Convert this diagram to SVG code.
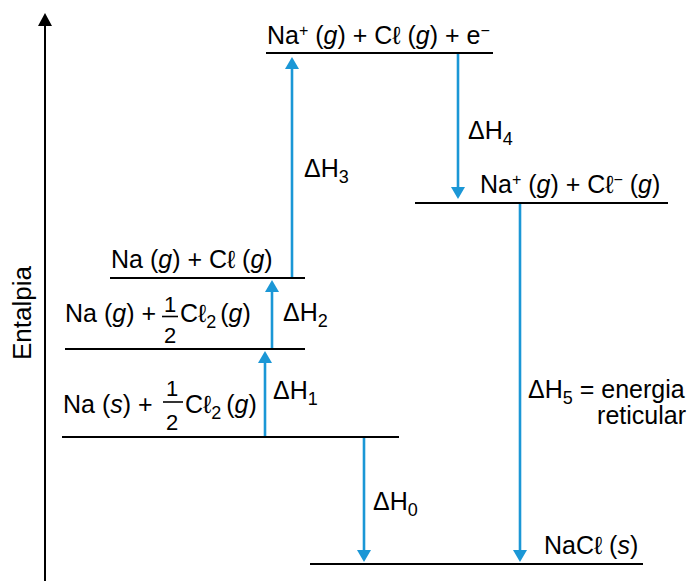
<svg xmlns="http://www.w3.org/2000/svg" width="689" height="581" viewBox="0 0 689 581">
<defs>
<style>
text{font-family:"Liberation Sans",Arial,sans-serif;font-size:25px;fill:#000}
.i{font-style:italic}
.sup{font-size:16px}
.sub{font-size:18px}
.fr{font-size:22px}
.lvl{stroke:#000;stroke-width:2;fill:none}
.arr{stroke:#1b97d6;stroke-width:2.6;fill:none;marker-end:url(#ah)}
</style>
<marker id="ah" viewBox="0 0 12 14" refX="1" refY="7" markerWidth="12" markerHeight="14" markerUnits="userSpaceOnUse" orient="auto">
<path d="M0,0 L12,7 L0,14 z" fill="#1b97d6"/>
</marker>
</defs>
<rect width="689" height="581" fill="#fff"/>
<g id="axis">
<line x1="45" y1="581" x2="45" y2="25" stroke="#000" stroke-width="2"/>
<path d="M38,26 L45,13 L52,26 z" fill="#000"/>
<text transform="translate(31,313) rotate(-90)" text-anchor="middle" style="font-size:26px">Entalpia</text>
</g>
<g id="connectors">
<line class="arr" x1="265" y1="437" x2="265" y2="362"/>
<line class="arr" x1="272" y1="349" x2="272" y2="291"/>
<line class="arr" x1="292" y1="277" x2="292" y2="68"/>
<line class="arr" x1="458" y1="53" x2="458" y2="188"/>
<line class="arr" x1="520" y1="203" x2="520" y2="551"/>
<line class="arr" x1="364" y1="437" x2="364" y2="551"/>
<text x="304" y="177">ΔH<tspan class="sub" dy="6">3</tspan></text>
<text x="468" y="139">ΔH<tspan class="sub" dy="6">4</tspan></text>
<text x="283" y="321">ΔH<tspan class="sub" dy="6">2</tspan></text>
<text x="273" y="399">ΔH<tspan class="sub" dy="6">1</tspan></text>
<text x="373" y="510">ΔH<tspan class="sub" dy="6">0</tspan></text>
<text x="528" y="398">ΔH<tspan class="sub" dy="6">5</tspan><tspan dy="-6"> = energia</tspan></text>
<text x="686" y="424" text-anchor="end">reticular</text>
</g>
<g id="n-top">
<line class="lvl" x1="266" y1="53" x2="493" y2="53"/>
<text x="267" y="44">Na<tspan class="sup" dy="-8">+</tspan><tspan dy="8"> (</tspan><tspan class="i">g</tspan>) + Cℓ (<tspan class="i">g</tspan>) + e<tspan class="sup" dy="-8">−</tspan></text>
</g>
<g id="n-ion">
<line class="lvl" x1="415" y1="203" x2="668" y2="203"/>
<text x="480" y="193">Na<tspan class="sup" dy="-8">+</tspan><tspan dy="8"> (</tspan><tspan class="i">g</tspan>) + Cℓ<tspan class="sup" dy="-8">−</tspan><tspan dy="8"> (</tspan><tspan class="i">g</tspan>)</text>
</g>
<g id="n-gas">
<line class="lvl" x1="110" y1="278" x2="305" y2="278"/>
<text x="111" y="268">Na (<tspan class="i">g</tspan>) + Cℓ (<tspan class="i">g</tspan>)</text>
</g>
<g id="n-half">
<line class="lvl" x1="65" y1="349" x2="305" y2="349"/>
<text x="65" y="322">Na (<tspan class="i">g</tspan>) +</text>
<text class="fr" x="170" y="312" text-anchor="middle">1</text>
<line x1="162" y1="316.5" x2="178" y2="316.5" stroke="#000" stroke-width="1.6"/>
<text class="fr" x="170" y="343" text-anchor="middle">2</text>
<text x="180" y="322">Cℓ<tspan class="sub" dy="6">2</tspan><tspan dy="-6" dx="4">(</tspan><tspan class="i">g</tspan>)</text>
</g>
<g id="n-std">
<line class="lvl" x1="62" y1="437" x2="399" y2="437"/>
<text x="63" y="413">Na (<tspan class="i">s</tspan>) +</text>
<text class="fr" x="172" y="396" text-anchor="middle">1</text>
<line x1="163" y1="402" x2="183" y2="402" stroke="#000" stroke-width="1.6"/>
<text class="fr" x="172" y="430" text-anchor="middle">2</text>
<text x="185" y="413">Cℓ<tspan class="sub" dy="6">2</tspan><tspan dy="-6" dx="5">(</tspan><tspan class="i">g</tspan>)</text>
</g>
<g id="n-nacl">
<line class="lvl" x1="310" y1="564" x2="643" y2="564"/>
<text x="544" y="554">NaCℓ (<tspan class="i">s</tspan>)</text>
</g>
</svg>
